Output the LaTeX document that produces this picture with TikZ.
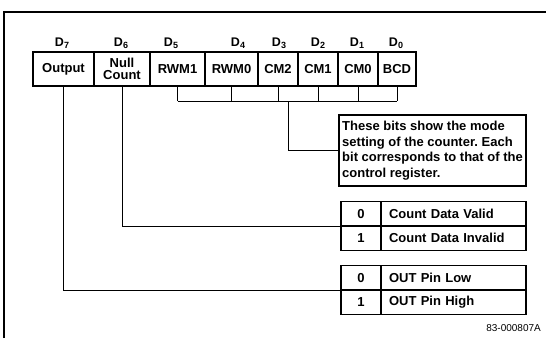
\documentclass[tikz,border=0pt]{standalone}
\usepackage{fontspec}
\setmainfont{Liberation Sans}
\frenchspacing
\newcommand{\Dsub}[1]{D\raisebox{-2.4pt}{\fontsize{9}{9}\selectfont #1}}
\begin{document}
\begin{tikzpicture}[x=1pt,y=-1pt,
  regbox/.style={draw, line width=1.7pt, minimum height=34pt, inner sep=0pt,
    font=\fontsize{13}{12.5}\selectfont\bfseries, align=center},
  dlabel/.style={font=\fontsize{12.5}{12.5}\selectfont\bfseries, inner sep=0pt},
  conn/.style={line width=0.9pt},
  frameline/.style={line width=1.2pt},
  keycell/.style={draw, line width=1.7pt, minimum width=40pt, minimum height=24.5pt,
    inner sep=0pt, font=\fontsize{13}{13}\selectfont\bfseries},
  valcell/.style={draw, line width=1.7pt, text width=129pt, inner xsep=8pt, inner ysep=0pt,
    minimum height=24.5pt, align=left, font=\fontsize{13}{13}\selectfont\bfseries},
  notebox/.style={draw, line width=1.7pt, minimum width=187pt, inner sep=0pt,
    minimum height=71pt, align=left, font=\fontsize{13}{15.5}\selectfont\bfseries}
]
\useasboundingbox (0,0) rectangle (546,338);
% outer frame (partial)
\draw[frameline] (4,338) -- (4,12) -- (546,12);
% register boxes
\node[regbox, minimum width=61pt] (b7) at (63.5,69) {Output};
\node[regbox, minimum width=56pt] (b6) at (122,69) {Null\\Count};
\node[regbox, minimum width=55pt] (b5) at (177.5,69) {RWM1};
\node[regbox, minimum width=53pt] (b4) at (231.5,69) {RWM0};
\node[regbox, minimum width=40pt] (b3) at (278,69) {CM2};
\node[regbox, minimum width=40pt] (b2) at (318,69) {CM1};
\node[regbox, minimum width=40pt] (b1) at (358,69) {CM0};
\node[regbox, minimum width=38pt] (b0) at (397,69) {BCD};
% bit labels
\node[dlabel] (d7) at (62,43) {\Dsub{7}};
\node[dlabel] (d6) at (121,43) {\Dsub{6}};
\node[dlabel] (d5) at (171,43) {\Dsub{5}};
\node[dlabel] (d4) at (238,43) {\Dsub{4}};
\node[dlabel] (d3) at (279,43) {\Dsub{3}};
\node[dlabel] (d2) at (318,43) {\Dsub{2}};
\node[dlabel] (d1) at (357,43) {\Dsub{1}};
\node[dlabel] (d0) at (396,43) {\Dsub{0}};
% note box
\node[notebox] (note) at (432.5,150.5) {These bits show the mode\\setting of the counter. Each\\bit corresponds to that of the\\control register.};
% count data table
\node[keycell] (c0k) at (361,213.75) {0};
\node[valcell] (c0v) at (453.5,213.75) {Count Data Valid};
\node[keycell] (c1k) at (361,238.25) {1};
\node[valcell] (c1v) at (453.5,238.25) {Count Data Invalid};
% out pin table
\node[keycell] (o0k) at (361,277.75) {0};
\node[valcell] (o0v) at (453.5,277.75) {OUT Pin Low};
\node[keycell] (o1k) at (361,302.25) {1};
\node[valcell] (o1v) at (453.5,302.25) {OUT Pin High};
% connectors
\coordinate (br) at (288,101);
\foreach \b in {b5,b4,b3,b2,b1,b0} \draw[conn] (\b.south) -- (\b.south |- br);
\draw[conn] (b5.south |- br) -- (b0.south |- br);
\draw[conn] (br) |- (note.west);
\draw[conn] (b6.south) |- (c0k.south west);
\draw[conn] (b7.south) |- (o0k.south west);
% figure number
\node[anchor=east, inner sep=0pt, font=\fontsize{10}{10}\selectfont] (fignum) at (541,328) {83-000807A};
\end{tikzpicture}
\end{document}
